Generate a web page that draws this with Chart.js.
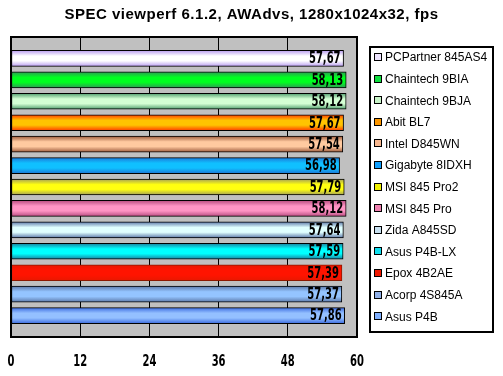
<!DOCTYPE html>
<html>
<head>
<meta charset="utf-8">
<script src="https://cdn.jsdelivr.net/npm/chart.js@4.4.1/dist/chart.umd.min.js"></script>
<style>
  body { margin: 0; background: #fff; }
  #wrap { width: 503px; height: 376px; }
</style>
</head>
<body>
<div id="wrap"><canvas id="chart" width="503" height="376"></canvas></div>
<script>
const title = 'SPEC viewperf 6.1.2, AWAdvs, 1280x1024x32, fps';
const boards = ['PCPartner 845AS4', 'Chaintech 9BIA', 'Chaintech 9BJA', 'Abit BL7', 'Intel D845WN',
  'Gigabyte 8IDXH', 'MSI 845 Pro2', 'MSI 845 Pro', 'Zida A845SD', 'Asus P4B-LX', 'Epox 4B2AE',
  'Acorp 4S845A', 'Asus P4B'];
const fps = [57.67, 58.13, 58.12, 57.67, 57.54, 56.98, 57.79, 58.12, 57.64, 57.59, 57.39, 57.37, 57.86];
const xTicks = [0, 12, 24, 36, 48, 60];

// edge / centre colours of the striped bars
const edgeCol = ['#b89cf0', '#2f9a55', '#4f9c6c', '#ff3c00', '#9c5a3c', '#1c78d8', '#a4a058', '#b84c80',
  '#5c78a8', '#1c7c9c', '#e81800', '#5c78a8', '#3c6ce0'];
const midCol = ['#ffffff', '#00ff20', '#d4ffd4', '#ffc400', '#ffcaa0', '#10c0ff', '#ffff10', '#ff94c4',
  '#e0ffff', '#00ffff', '#ff1400', '#94c4ff', '#94c0ff'];
const swatch = ['#eee4ff', '#10e040', '#c8f4c8', '#ff9800', '#f8b890', '#10a0ff', '#f0f000', '#f080b0',
  '#c8e0f0', '#10e0f0', '#f01800', '#90b0e8', '#80b0ff'];
const barBorder = ['#000', '#000', '#000', '#000', '#000', '#000', '#000', '#000', '#000', '#000', '#8c1800', '#000', '#000'];

const numFont = 'bold 15px "DejaVu Sans Condensed", "DejaVu Sans", sans-serif';

// narrow bold numbers, squeezed horizontally
function narrowText(ctx, txt, x, y, align) {
  ctx.save();
  ctx.translate(x, y);
  ctx.scale(0.74, 1);
  ctx.font = numFont;
  ctx.textAlign = align;
  ctx.textBaseline = 'middle';
  ctx.fillStyle = '#000';
  ctx.fillText(txt, 0, 0);
  ctx.restore();
}

const extras = {
  id: 'extras',
  afterDraw(chart) {
    const { ctx, chartArea: a } = chart;
    ctx.save();
    // plot border
    ctx.strokeStyle = '#000';
    ctx.lineWidth = 2;
    ctx.strokeRect(a.left, a.top, a.right - a.left, a.bottom - a.top);

    // values at bar ends
    const meta = chart.getDatasetMeta(0);
    fps.forEach((v, i) => {
      const el = meta.data[i + 1];
      narrowText(ctx, v.toFixed(2).replace('.', ','), el.x - 3, el.y + 1, 'right');
    });

    // x tick labels
    const xs = chart.scales.x;
    xTicks.forEach(t => narrowText(ctx, String(t), xs.getPixelForValue(t), 362, 'center'));

    // title
    ctx.font = 'bold 15px "Liberation Sans", Arial, sans-serif';
    ctx.letterSpacing = '0.5px';
    ctx.textAlign = 'center';
    ctx.textBaseline = 'middle';
    ctx.fillStyle = '#000';
    ctx.fillText(title, chart.width / 2, 15);
    ctx.letterSpacing = '0px';

    // legend
    ctx.lineWidth = 2;
    ctx.strokeRect(370, 47, 123, 285);
    ctx.font = '12px "Liberation Sans", Arial, sans-serif';
    ctx.textAlign = 'left';
    ctx.lineWidth = 1;
    boards.forEach((b, i) => {
      const y = 57 + i * 21.6;
      ctx.fillStyle = swatch[i];
      ctx.fillRect(374.5, Math.round(y) - 3.5, 7, 7);
      ctx.strokeStyle = '#000';
      ctx.strokeRect(374.5, Math.round(y) - 3.5, 7, 7);
      ctx.fillStyle = '#000';
      ctx.fillText(b, 385, y + 1);
    });
    ctx.restore();
  }
};

const chart = new Chart(document.getElementById('chart'), {
  type: 'bar',
  data: {
    labels: ['', ...boards, ''],
    datasets: [{
      data: [null, ...fps, null],
      barThickness: 16,
      borderWidth: 1,
      borderSkipped: false,
      borderColor: (c) => barBorder[c.dataIndex - 1] || '#000',
      backgroundColor: (c) => {
        const i = c.dataIndex - 1;
        if (i === undefined || i < 0 || i >= fps.length) return 'transparent';
        const ys = c.chart.scales.y;
        if (!ys || ys.top === undefined) return midCol[i];
        const mid = ys.getPixelForValue(c.dataIndex);
        const g = c.chart.ctx.createLinearGradient(0, mid - 8, 0, mid + 8);
        g.addColorStop(0, edgeCol[i]);
        g.addColorStop(0.35, midCol[i]);
        g.addColorStop(0.65, midCol[i]);
        g.addColorStop(1, edgeCol[i]);
        return g;
      }
    }]
  },
  options: {
    indexAxis: 'y',
    responsive: false,
    animation: false,
    layout: { padding: { top: 37, left: 11, right: 146, bottom: 0 } },
    plugins: { legend: { display: false }, tooltip: { enabled: false }, title: { display: false } },
    scales: {
      x: {
        min: 0, max: 60,
        afterBuildTicks: (s) => { s.ticks = xTicks.map(v => ({ value: v })); },
        afterFit: (s) => { s.height = 39; s.paddingLeft = 0; s.paddingRight = 0; },
        grid: { color: '#000', lineWidth: 1, drawTicks: false },
        border: { display: false },
        ticks: { display: false }
      },
      y: {
        display: false,
        offset: false,
        grid: { display: false }
      }
    }
  },
  plugins: [{
    id: 'plotBg',
    beforeDraw(chart) {
      const { ctx, chartArea: a } = chart;
      ctx.save();
      ctx.fillStyle = '#fff';
      ctx.fillRect(0, 0, chart.width, chart.height);
      ctx.fillStyle = '#c0c0c0';
      ctx.fillRect(a.left, a.top, a.right - a.left, a.bottom - a.top);
      ctx.restore();
    }
  }, extras]
});
</script>
</body>
</html>
